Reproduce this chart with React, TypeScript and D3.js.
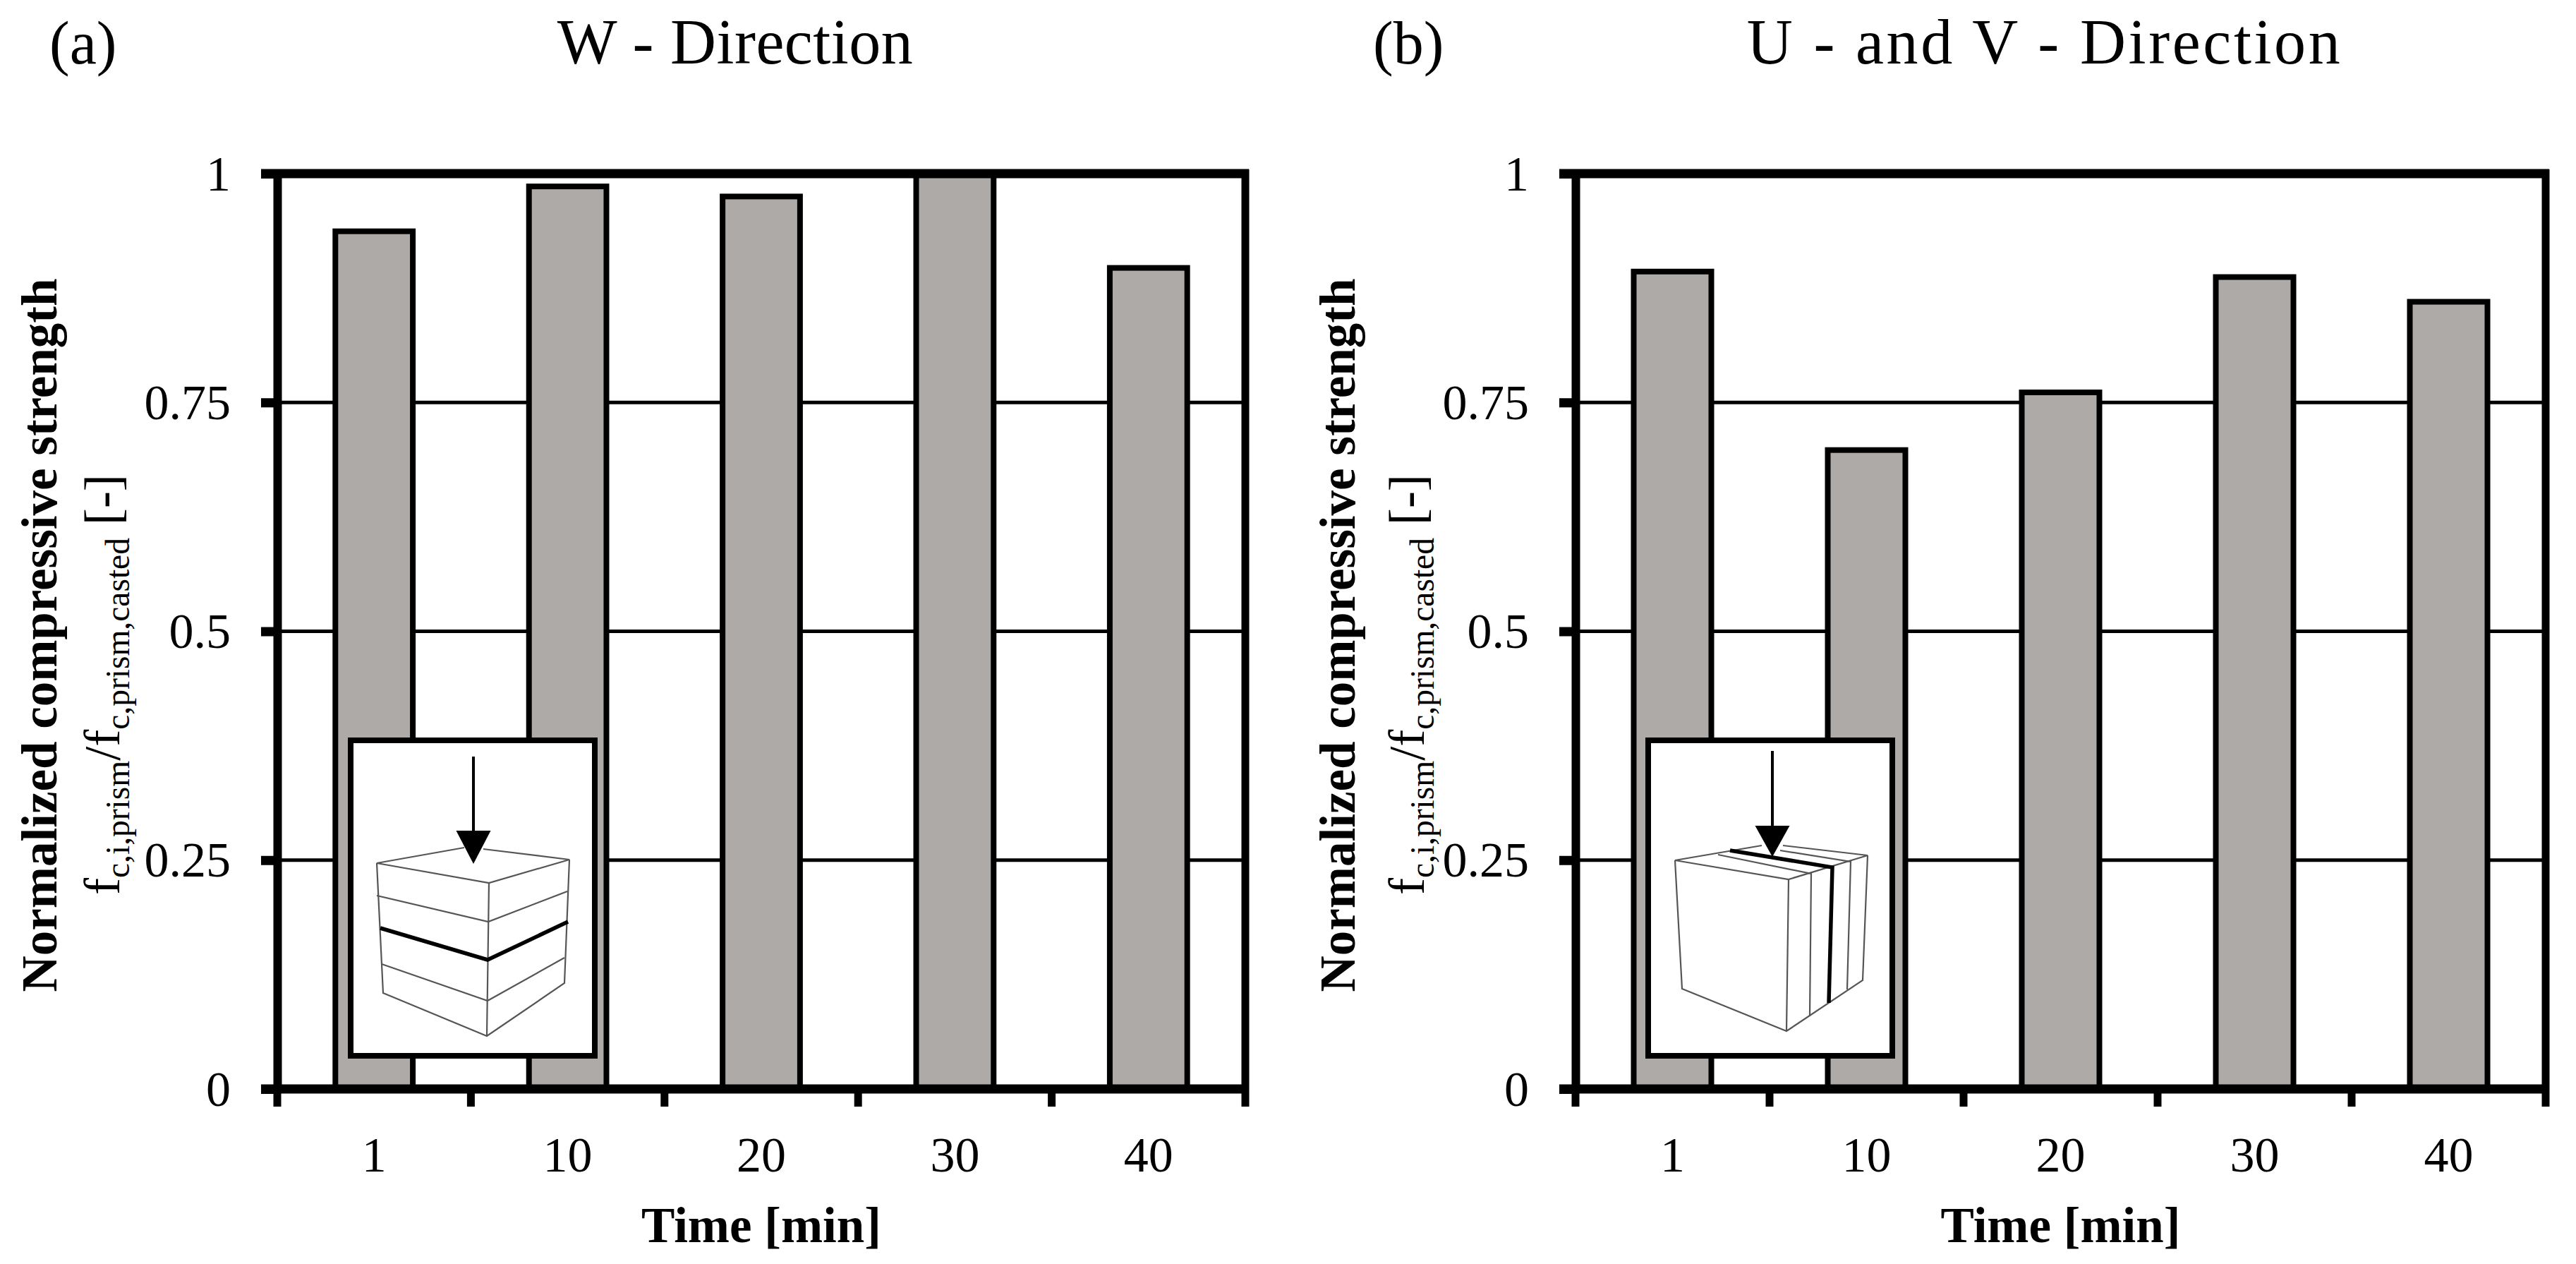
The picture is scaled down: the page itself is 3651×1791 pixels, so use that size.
import { useEffect, useRef } from "react";
import * as d3 from "d3";

// Time categories shared by both panels
const timeLabels = ["1", "10", "20", "30", "40"];
const yTicks = [0, 0.25, 0.5, 0.75, 1];

// Normalized compressive strength
const wDirection = [0.937, 0.986, 0.975, 1.0, 0.897];
const uvDirection = [0.893, 0.698, 0.761, 0.887, 0.86];

// Inset sketches, in reference pixels relative to the inset box's top left corner
const insetArrowA = { x: 178, top: 27, head: 132, tip: 179, half: 24.5 };
const insetThinA = [
  [[165, 156], [41, 178], [200, 206], [314, 173], [192, 158]],
  [[41, 178], [50, 362], [197, 423], [307, 348], [314, 173]],
  [[200, 206], [197, 423]],
  [[41, 224], [199, 261], [311, 218]],
  [[48, 321], [198, 373], [307, 312]],
];
const insetThickA = [[[46, 270], [198, 315], [312, 261]]];

const insetArrowB = { x: 180, top: 19, head: 125, tip: 169, half: 24.5 };
const insetThinB = [
  [[165, 153], [42, 174], [203, 201], [315, 167], [195, 153]],
  [[42, 174], [52, 356], [200, 416], [308, 344], [315, 167]],
  [[203, 201], [200, 416]],
  [[103, 166], [235, 193], [233, 395]],
  [[191, 160], [291, 176], [286, 357]],
];
const insetThickB = [[[120, 160], [265, 184], [260, 376]]];

const serif = "'Liberation Serif', serif";
const panelHeight = { top: 246, bottom: 1543 };

type PanelProps = {
  left: number;
  plotWidth: number;
  letter: string;
  letterX: number;
  title: string;
  titleX: number;
  titleSpacing: number;
  subLabelOffset: number;
  values: number[];
  insetX: number;
  arrow: typeof insetArrowA;
  thin: number[][][];
  thick: number[][][];
};

function Panel({
  left,
  plotWidth,
  letter,
  letterX,
  title,
  titleX,
  titleSpacing,
  subLabelOffset,
  values,
  insetX,
  arrow,
  thin,
  thick,
}: PanelProps) {
  const ref = useRef<SVGGElement>(null);

  useEffect(() => {
    const g = d3.select(ref.current);
    g.selectAll("*").remove();

    const x = d3
      .scaleBand()
      .domain(timeLabels)
      .range([left, left + plotWidth])
      .paddingInner(0.6)
      .paddingOuter(0.3);
    const xEdges = d3.scaleLinear().domain([0, timeLabels.length]).range([left, left + plotWidth]);
    const y = d3.scaleLinear().domain([0, 1]).range([panelHeight.bottom, panelHeight.top]);

    // Gridlines sit under the bars
    g.append("g")
      .selectAll("line")
      .data(yTicks.filter(d => d > 0 && d < 1))
      .enter()
      .append("line")
      .attr("x1", left)
      .attr("x2", left + plotWidth)
      .attr("y1", d => y(d))
      .attr("y2", d => y(d))
      .attr("stroke", "#000")
      .attr("stroke-width", 5);

    // Bars
    g.append("g")
      .selectAll("rect")
      .data(values)
      .enter()
      .append("rect")
      .attr("x", (d, i) => x(timeLabels[i]) as number)
      .attr("y", d => y(d))
      .attr("width", x.bandwidth())
      .attr("height", d => y(0) - y(d))
      .attr("fill", "#aeaaa8")
      .attr("stroke", "#000")
      .attr("stroke-width", 8);

    // Y axis with heavy ticks; the top and bottom ticks run the full width
    const yAxis = d3
      .axisLeft(y)
      .tickValues(yTicks)
      .tickSize(23)
      .tickSizeOuter(0)
      .tickFormat(d => String(d));
    const yG = g.append("g").attr("transform", `translate(${left},0)`).call(yAxis);
    yG.select(".domain").attr("stroke", "#000").attr("stroke-width", 12);
    yG.selectAll(".tick line").attr("stroke", "#000").attr("stroke-width", 13);
    yG.selectAll(".tick text")
      .attr("x", -66)
      .attr("dy", "0.33em")
      .attr("fill", "#000")
      .style("font-family", serif)
      .style("font-size", "70px");

    // Frame: top and bottom rules, then the right rule
    [1, 0].forEach(v => {
      g.append("line")
        .attr("x1", left - 23)
        .attr("x2", left + plotWidth + 5)
        .attr("y1", y(v))
        .attr("y2", y(v))
        .attr("stroke", "#000")
        .attr("stroke-width", 13);
    });
    g.append("line")
      .attr("x1", left + plotWidth)
      .attr("x2", left + plotWidth)
      .attr("y1", y(1) - 6)
      .attr("y2", y(0))
      .attr("stroke", "#000")
      .attr("stroke-width", 11);

    // X ticks fall on the band edges, labels in the band centres
    g.append("g")
      .selectAll("line")
      .data(d3.range(timeLabels.length + 1))
      .enter()
      .append("line")
      .attr("x1", d => xEdges(d))
      .attr("x2", d => xEdges(d))
      .attr("y1", y(0))
      .attr("y2", y(0) + 25)
      .attr("stroke", "#000")
      .attr("stroke-width", 11);

    const xAxis = d3.axisBottom(x).tickSize(0).tickPadding(0);
    const xG = g.append("g").attr("transform", `translate(0,${y(0)})`).call(xAxis);
    xG.select(".domain").remove();
    xG.selectAll(".tick text")
      .attr("y", 117)
      .attr("dy", 0)
      .attr("fill", "#000")
      .style("font-family", serif)
      .style("font-size", "70px");

    // Inset load-direction sketch
    const inset = g.append("g").attr("transform", `translate(${insetX},1045)`);
    inset
      .append("rect")
      .attr("x", 4)
      .attr("y", 4)
      .attr("width", 346)
      .attr("height", 447)
      .attr("fill", "#fff")
      .attr("stroke", "#000")
      .attr("stroke-width", 8);
    const pathLine = d3.line();
    inset
      .selectAll(".thin")
      .data(thin)
      .enter()
      .append("path")
      .attr("class", "thin")
      .attr("d", d => pathLine(d as [number, number][]))
      .attr("fill", "none")
      .attr("stroke", "#555")
      .attr("stroke-width", 2.2);
    inset
      .selectAll(".thick")
      .data(thick)
      .enter()
      .append("path")
      .attr("class", "thick")
      .attr("d", d => pathLine(d as [number, number][]))
      .attr("fill", "none")
      .attr("stroke", "#000")
      .attr("stroke-width", 5.5);
    inset
      .append("line")
      .attr("x1", arrow.x)
      .attr("x2", arrow.x)
      .attr("y1", arrow.top)
      .attr("y2", arrow.head)
      .attr("stroke", "#000")
      .attr("stroke-width", 4);
    inset
      .append("path")
      .attr(
        "d",
        pathLine([
          [arrow.x - arrow.half, arrow.head],
          [arrow.x + arrow.half, arrow.head],
          [arrow.x, arrow.tip],
        ]) + "Z"
      )
      .attr("fill", "#000");
  }, [left, plotWidth, values, insetX, arrow, thin, thick]);

  const subSize = 47.5;
  const labelX = left - 313;
  const subLabelX = left + subLabelOffset;

  return (
    <g style={{ fontFamily: serif, fill: "#000" }}>
      <g ref={ref} />
      <text x={letterX} y={90} fontSize={86}>{letter}</text>
      <text x={titleX} y={90} fontSize={90} textAnchor="middle" letterSpacing={titleSpacing}>
        {title}
      </text>
      <text x={left + plotWidth / 2} y={1760} fontSize={71} fontWeight="bold" textAnchor="middle">
        Time [min]
      </text>
      <text
        transform={`translate(${labelX},900) rotate(-90)`}
        fontSize={71}
        fontWeight="bold"
        textAnchor="middle"
      >
        Normalized compressive strength
      </text>
      <text transform={`translate(${subLabelX},1268) rotate(-90)`} fontSize={72}>
        f
        <tspan fontSize={subSize} dy={14}>c,i,prism</tspan>
        <tspan dy={-14}>/f</tspan>
        <tspan fontSize={subSize} dy={14}>c,prism,casted</tspan>
        <tspan dy={-14}> [-]</tspan>
      </text>
    </g>
  );
}

export default function App() {
  return (
    <svg
      width={3651}
      height={1791}
      style={{ position: "absolute", left: 0, top: 0, background: "#fff", display: "block" }}
    >
      <Panel
        left={393}
        plotWidth={1372}
        letter="(a)"
        letterX={70}
        title="W - Direction"
        titleX={1042}
        titleSpacing={0.5}
        subLabelOffset={-224}
        values={wDirection}
        insetX={493}
        arrow={insetArrowA}
        thin={insetThinA}
        thick={insetThickA}
      />
      <Panel
        left={2233}
        plotWidth={1375}
        letter="(b)"
        letterX={1946}
        title="U - and V - Direction"
        titleX={2898}
        titleSpacing={3.6}
        subLabelOffset={-215}
        values={uvDirection}
        insetX={2332}
        arrow={insetArrowB}
        thin={insetThinB}
        thick={insetThickB}
      />
    </svg>
  );
}
